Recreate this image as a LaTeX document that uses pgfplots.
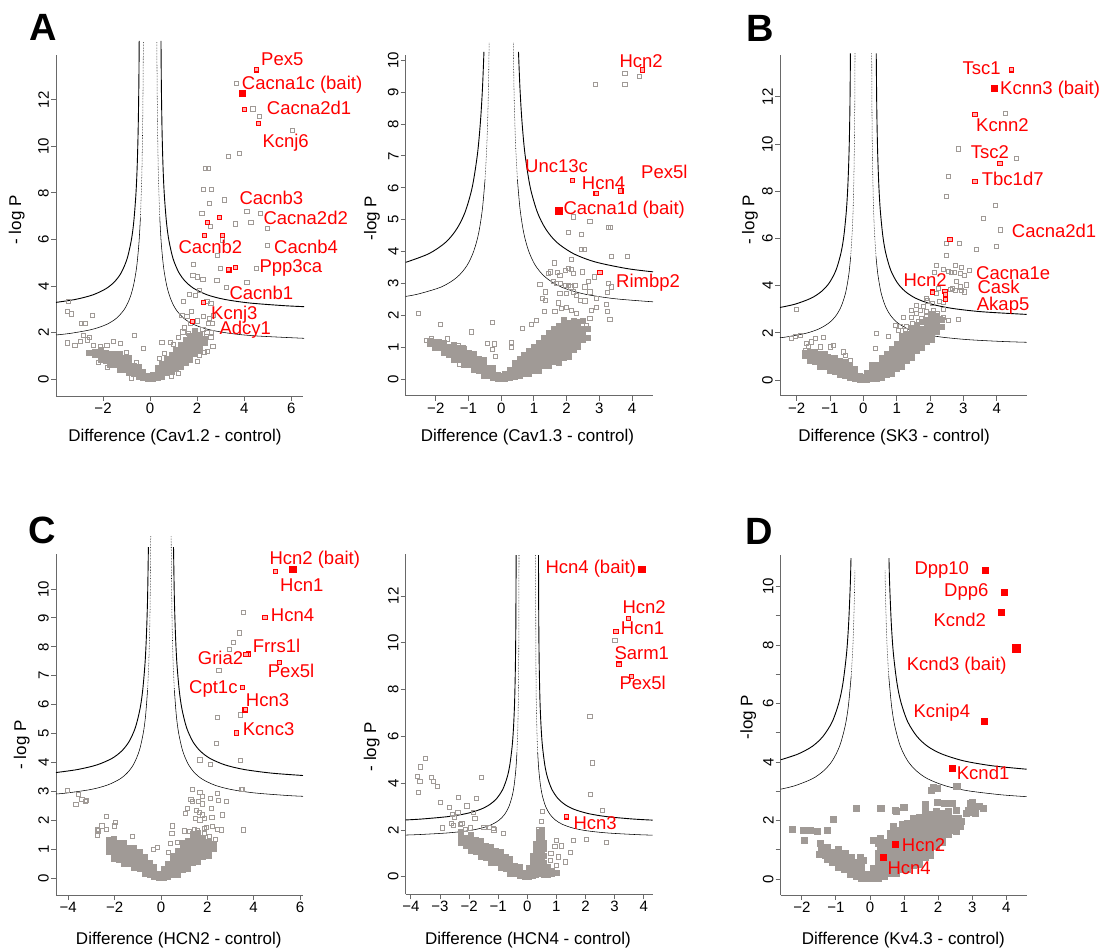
\documentclass[border=0pt]{standalone}
\usepackage{pgfplots}
\pgfplotsset{compat=1.18}
\usepackage{fontspec}
\setmainfont{Liberation Sans}

\definecolor{ptgray}{RGB}{160,154,150}
\definecolor{axcol}{RGB}{105,105,105}
\newcommand\tickfont{\fontsize{15}{18}\selectfont}
\newcommand\labf{\fontsize{17}{20}\selectfont}
\newcommand\redf{\fontsize{18.5}{22}\selectfont}

\pgfplotsset{
  volc/.style={
    scale only axis, anchor=south west, clip=false,
    axis lines=left, axis line style={-, draw=axcol, line width=0.9pt},
    tick align=outside, major tick length=5pt, minor tick length=5pt,
    tick style={draw=axcol, line width=0.9pt},
    every tick label/.append style={font=\tickfont, text=black},
    yticklabel style={rotate=90, anchor=south, inner sep=2pt},
    xticklabel style={anchor=north, inner sep=2pt},
  },
  gc/.style={color=ptgray, only marks, mark=square*, mark size=2.5pt, mark options={draw=ptgray, fill=ptgray, line width=0.3pt}},
  gp/.style={color=ptgray, only marks, mark=square, mark size=2.1pt, mark options={draw=ptgray, line width=0.75pt}},
  gd/.style={color=ptgray, only marks, mark=square*, mark size=3pt, mark options={draw=ptgray, fill=ptgray, line width=0.3pt}},
  rp/.style={color=red, only marks, mark=square*, mark size=2.1pt, mark options={draw=red, fill=red!30, line width=1.1pt}},
  rb/.style={color=red, only marks, mark=square*, mark size=3.3pt, mark options={draw=red, fill=red}},
  rd/.style={color=red, only marks, mark=square*, mark size=3pt, mark options={draw=red, fill=red}},
  outer/.style={black, line width=0.9pt, smooth, no marks},
  inner/.style={black, line width=0.55pt, smooth, no marks},
  innerd/.style={black, line width=0.55pt, densely dotted, smooth, no marks},
}
\tikzset{lab/.style={font=\labf, inner sep=0pt}, red/.style={font=\redf, text=red, anchor=base west, inner sep=0pt}}

\begin{document}
\begin{tikzpicture}
\useasboundingbox (0pt,0pt) rectangle (1104pt,-950pt);

% ---------------- A left: Cav1.2
\begin{axis}[volc, at={(56pt,-396pt)}, width=247pt, height=341pt,
  xmin=-4, xmax=6.5, ymin=-0.73, ymax=13.93,
  xtick={-2,0,2,4,6}, xticklabels={−2,0,2,4,6},
  ytick={0,2,...,12}, yticklabels={0,2,4,6,8,10,12}]
\addplot[gc] coordinates {(0,0.02)(0,0.12)
(-0.1,0.02)(-0.1,0.13)(-0.3,0.05)(-0.3,0.3)(-0.5,0.1)(-0.5,0.32)(-0.5,0.55)(-0.7,0.22)(-0.7,0.4)(-0.7,0.58)(-0.9,0.26)(-0.9,0.5)(-0.9,0.7)(-0.9,0.93)(-1.1,0.4)(-1.1,0.56)(-1.1,0.76)(-1.1,0.92)(-1.3,0.42)(-1.3,0.65)(-1.3,0.85)(-1.3,1.1)(-1.5,0.6)(-1.5,0.75)(-1.5,0.95)(-1.5,1.08)(-1.7,0.62)(-1.7,0.85)(-1.7,1.09)(-1.9,0.8)(-1.9,0.95)(-1.9,1.13)(-2.1,0.82)(-2.1,1.05)(-2.1,1.28)(-2.35,1.03)(-2.35,1.18)(-2.6,1.12)
(0.1,0.02)(0.1,0.2)(0.3,0.06)(0.3,0.24)(0.3,0.47)(0.5,0.12)(0.5,0.34)(0.5,0.54)(0.5,0.68)(0.7,0.27)(0.7,0.44)(0.7,0.64)(0.7,0.88)(0.9,0.3)(0.9,0.52)(0.9,0.72)(0.9,0.92)(0.9,1.06)(1.1,0.46)(1.1,0.62)(1.1,0.82)(1.1,1.02)(1.1,1.27)(1.3,0.52)(1.3,0.75)(1.3,0.95)(1.3,1.15)(1.3,1.35)(1.3,1.46)(1.5,0.72)(1.5,0.88)(1.5,1.08)(1.5,1.28)(1.5,1.48)(1.5,1.7)(1.7,0.82)(1.7,1.05)(1.7,1.25)(1.7,1.45)(1.7,1.65)(1.7,1.81)(1.9,1.1)(1.9,1.25)(1.9,1.45)(1.9,1.65)(1.9,1.85)(1.9,2.09)(2.1,1.26)(2.1,1.5)(2.1,1.7)(2.1,1.92)(2.3,1.55)(2.3,1.72)};
\addplot[gp] coordinates {(3.66,12.72)(4.37,11.61)(4.64,11.3)(6.04,10.68)(3.33,9.58)(3.8,9.69)(2.34,9.06)(2.48,9.06)(2.27,8.17)(2.6,8.17)(2.52,7.56)(3.15,7.7)(2.2,7.13)(4.11,7.2)(4.68,7.13)(2.55,6.57)(3.63,6.67)(4.28,6.72)(4.99,6.49)(3.08,5.98)(5.0,5.73)(2.87,5.33)(1.84,4.93)(3.0,4.76)(4.51,4.76)(1.82,4.47)(2.01,4.39)(2.24,4.29)(2.84,4.23)(4.11,4.14)(2.1,3.8)(3.23,3.94)(1.67,3.64)(1.91,3.61)(2.41,3.33)(2.58,3.25)(1.42,3.33)(1.35,2.75)(1.77,2.9)(1.56,2.68)(2.27,2.68)(2.52,2.61)(2.7,2.75)(2.48,2.39)(2.65,2.39)(2.24,2.14)(2.41,2.01)(-3.48,3.33)(-3.52,2.9)(-3.33,2.8)(-2.45,2.72)(-2.91,2.39)(-2.77,2.39)(-2.84,1.89)(-2.58,1.79)(-0.68,1.89)(-2.98,1.61)(-2.67,1.68)(-2.13,1.39)(-1.84,1.46)(-1.56,1.61)(-1.28,1.53)(-0.28,1.32)(0.5,1.58)(0.85,1.58)(1.28,1.39)(1.63,1.96)(1.99,1.89)(2.58,1.79)(2.44,1.18)(2.67,1.39)(2.1,1.03)(-2.4,1.45)(-2.2,0.7)(-1.0,1.15)(-0.6,0.7)(0.4,0.9)(0.6,1.1)(1.0,1.5)(1.2,1.8)(2.3,1.15)(2.0,0.75)(1.2,0.25)(-1.8,0.5)(-0.8,0.05)(0.9,0.12)(-3.2,1.45)(-3.5,1.55)(2.6,2.0)(1.45,2.2)(1.7,2.4)(2.0,2.5)(1.39,2.03)(1.67,1.89)(1.96,1.68)(2.38,1.82)};
\addplot[rp] coordinates {(4.51,13.29)(4.01,11.58)(4.6,10.98)(2.95,6.94)(2.43,6.74)(3.09,6.16)(2.3,6.16)(3.63,4.80)(3.35,4.69)(2.26,3.28)(1.79,2.47)};
\addplot[rb] coordinates {(3.91,12.29)};
\addplot[outer] coordinates {(0.463,14.54)(0.479,12.59)(0.509,10.64)(0.551,9.08)(0.605,7.91)(0.696,6.74)(0.799,5.96)(0.975,5.18)(1.214,4.595)(1.490,4.205)(1.860,3.893)(2.427,3.62)(3.159,3.425)(4.223,3.269)(5.721,3.152)(6.55,3.111)};
\addplot[outer] coordinates {(-0.463,14.54)(-0.479,12.59)(-0.509,10.64)(-0.551,9.08)(-0.605,7.91)(-0.696,6.74)(-0.799,5.96)(-0.975,5.18)(-1.214,4.595)(-1.490,4.205)(-1.860,3.893)(-2.427,3.62)(-3.159,3.425)(-4.0,3.294)};
\addplot[innerd] coordinates {(0.286,14.48)(0.301,12.37)(0.326,10.20)(0.357,8.58)(0.411,6.95)};
\addplot[inner] coordinates {(0.411,6.95)(0.472,5.87)(0.576,4.78)(0.717,3.97)(0.880,3.43)(1.099,2.99)(1.434,2.61)(1.866,2.34)(2.495,2.126)(3.381,1.964)(4.467,1.855)(6.55,1.75)};
\addplot[innerd] coordinates {(-0.286,14.48)(-0.301,12.37)(-0.326,10.20)(-0.357,8.58)(-0.411,6.95)};
\addplot[inner] coordinates {(-0.411,6.95)(-0.472,5.87)(-0.576,4.78)(-0.717,3.97)(-0.880,3.43)(-1.099,2.99)(-1.434,2.61)(-1.866,2.34)(-2.495,2.126)(-3.381,1.964)(-4.0,1.894)};
\end{axis}

% ---------------- A right: Cav1.3
\begin{axis}[volc, at={(405.7pt,-395.7pt)}, width=247.3pt, height=340.7pt,
  xmin=-2.92, xmax=4.64, ymin=-0.51, ymax=10.16,
  xtick={-2,...,4}, xticklabels={−2,−1,0,1,2,3,4},
  ytick={0,...,10}, yticklabels={0,1,2,3,4,5,6,7,8,9,10}]
\addplot[gc] coordinates {(0,0.02)(0,0.12)
(-0.1,0.02)(-0.1,0.15)(-0.25,0.05)(-0.25,0.2)(-0.25,0.36)(-0.4,0.12)(-0.4,0.25)(-0.4,0.38)(-0.55,0.13)(-0.55,0.3)(-0.55,0.45)(-0.55,0.62)(-0.7,0.28)(-0.7,0.4)(-0.7,0.55)(-0.7,0.66)(-0.85,0.3)(-0.85,0.48)(-0.85,0.63)(-0.85,0.82)(-1.0,0.45)(-1.0,0.55)(-1.0,0.7)(-1.0,0.83)(-1.15,0.45)(-1.15,0.63)(-1.15,0.78)(-1.15,0.97)(-1.3,0.62)(-1.3,0.73)(-1.3,0.88)(-1.3,0.98)(-1.45,0.62)(-1.45,0.8)(-1.45,0.95)(-1.45,1.1)(-1.6,0.79)(-1.6,0.9)(-1.6,1.03)(-1.75,0.83)(-1.75,1.0)(-1.75,1.15)(-1.9,0.98)(-1.9,1.1)(-1.9,1.18)(-2.05,1.0)(-2.05,1.19)(-2.2,1.13)(-2.2,1.2)
(0.1,0.02)(0.1,0.19)(0.25,0.05)(0.25,0.2)(0.25,0.32)(0.4,0.08)(0.4,0.23)(0.4,0.38)(0.4,0.54)(0.55,0.12)(0.55,0.27)(0.55,0.42)(0.55,0.57)(0.55,0.65)(0.7,0.17)(0.7,0.3)(0.7,0.45)(0.7,0.6)(0.7,0.79)(0.85,0.18)(0.85,0.35)(0.85,0.5)(0.85,0.65)(0.85,0.8)(0.85,0.89)(1.0,0.28)(1.0,0.4)(1.0,0.55)(1.0,0.7)(1.0,0.85)(1.0,1.04)(1.15,0.27)(1.15,0.45)(1.15,0.6)(1.15,0.75)(1.15,0.9)(1.15,1.05)(1.15,1.14)(1.3,0.42)(1.3,0.53)(1.3,0.68)(1.3,0.83)(1.3,0.98)(1.3,1.13)(1.3,1.32)(1.45,0.42)(1.45,0.6)(1.45,0.75)(1.45,0.9)(1.45,1.05)(1.45,1.2)(1.45,1.35)(1.45,1.45)(1.6,0.55)(1.6,0.65)(1.6,0.8)(1.6,0.95)(1.6,1.1)(1.6,1.25)(1.6,1.4)(1.6,1.59)(1.75,0.52)(1.75,0.7)(1.75,0.85)(1.75,1.0)(1.75,1.15)(1.75,1.3)(1.75,1.45)(1.75,1.6)(1.75,1.69)(1.9,0.69)(1.9,0.8)(1.9,0.95)(1.9,1.1)(1.9,1.25)(1.9,1.4)(1.9,1.55)(1.9,1.7)(1.9,1.86)(2.05,0.72)(2.05,0.9)(2.05,1.05)(2.05,1.2)(2.05,1.35)(2.05,1.5)(2.05,1.65)(2.05,1.77)(2.2,0.94)(2.2,1.05)(2.2,1.2)(2.2,1.35)(2.2,1.5)(2.2,1.65)(2.2,1.84)(2.35,1.02)(2.35,1.2)(2.35,1.35)(2.35,1.5)(2.35,1.65)(2.35,1.82)(2.5,1.24)(2.5,1.4)(2.5,1.6)(2.5,1.84)(2.65,1.32)(2.65,1.58)};
\addplot[gp] coordinates {(3.78,9.58)(4.22,9.5)(2.88,9.24)(3.78,9.24)(2.2,5.09)(2.71,4.96)(3.28,4.77)(3.33,4.77)(2.05,4.6)(2.46,4.54)(2.46,4.07)(2.53,4.07)(3.37,3.86)(3.86,3.86)(2.15,3.76)(1.62,3.65)(1.44,3.32)(1.51,3.37)(1.72,3.34)(1.79,3.27)(1.95,3.42)(2.05,3.47)(2.15,3.44)(2.2,3.32)(2.48,3.37)(2.66,3.06)(2.84,3.21)(3.27,3.0)(3.37,2.9)(3.25,2.72)(1.59,3.06)(1.69,3.0)(1.82,3.02)(1.97,2.95)(2.05,2.95)(2.13,2.9)(2.25,2.95)(2.56,2.9)(2.71,2.74)(1.79,2.69)(1.99,2.69)(2.2,2.74)(2.3,2.64)(2.41,2.48)(2.56,2.46)(2.92,2.55)(1.18,2.98)(1.34,2.74)(1.25,2.53)(1.34,2.48)(1.31,2.14)(1.64,2.12)(1.74,2.4)(1.85,2.22)(2.0,2.25)(2.15,2.17)(2.3,2.06)(2.76,2.17)(2.92,2.25)(3.22,2.35)(3.25,2.14)(3.32,1.88)(2.71,1.91)(2.61,1.7)(2.2,1.7)(2.25,1.33)(2.15,1.07)(-2.54,2.06)(-1.85,1.73)(-0.91,1.49)(-0.27,1.78)(0.64,1.6)(0.93,1.72)(1.08,1.86)(-0.42,1.13)(-0.22,1.11)(0.32,1.15)(0.3,1.0)(-0.28,0.94)(-0.17,0.73)(-1.31,1.07)(-1.16,1.0)(-2.28,1.23)(-2.13,1.27)(-1.64,1.27)(-1.93,1.18)(-1.57,1.02)(-1.72,0.83)(-1.31,0.71)(-1.29,0.48)(-1.01,0.83)};
\addplot[rp] coordinates {(4.31,9.69)(2.18,6.22)(2.9,5.82)(3.66,5.9)(3.02,3.35)};
\addplot[rb] coordinates {(1.76,5.28)};
\addplot[outer] coordinates {(0.528,10.26)(0.572,9.14)(0.633,8.1)(0.726,7.06)(0.886,6.02)(1.104,5.24)(1.355,4.72)(1.691,4.30)(2.207,3.94)(2.872,3.68)(3.839,3.472)(4.64,3.369)};
\addplot[outer] coordinates {(-0.528,10.26)(-0.572,9.14)(-0.633,8.1)(-0.726,7.06)(-0.886,6.02)(-1.104,5.24)(-1.355,4.72)(-1.691,4.30)(-2.207,3.94)(-2.92,3.666)};
\addplot[innerd] coordinates {(0.369,10.54)(0.395,8.87)(0.438,7.38)(0.495,6.26)};
\addplot[inner] coordinates {(0.495,6.26)(0.576,5.33)(0.690,4.58)(0.839,4.02)(1.044,3.57)(1.351,3.20)(1.821,2.90)(2.527,2.677)(3.468,2.528)(4.64,2.43)};
\addplot[innerd] coordinates {(-0.369,10.54)(-0.395,8.87)(-0.438,7.38)(-0.495,6.26)};
\addplot[inner] coordinates {(-0.495,6.26)(-0.576,5.33)(-0.690,4.58)(-0.839,4.02)(-1.044,3.57)(-1.351,3.20)(-1.821,2.90)(-2.527,2.677)(-2.92,2.60)};
\end{axis}

% ---------------- B: SK3
\begin{axis}[volc, at={(780pt,-395.7pt)}, width=246.7pt, height=340.7pt,
  xmin=-2.5, xmax=4.9, ymin=-0.66, ymax=13.77,
  xtick={-2,...,4}, xticklabels={−2,−1,0,1,2,3,4},
  ytick={0,2,...,12}, yticklabels={0,2,4,6,8,10,12}]
\addplot[gc] coordinates {(0,0.02)(0,0.15)
(-0.1,0.02)(-0.1,0.17)(-0.25,0.05)(-0.25,0.25)(-0.25,0.49)(-0.4,0.1)(-0.4,0.3)(-0.4,0.5)(-0.4,0.64)(-0.55,0.18)(-0.55,0.35)(-0.55,0.55)(-0.55,0.79)(-0.7,0.22)(-0.7,0.45)(-0.7,0.65)(-0.7,0.82)(-0.85,0.37)(-0.85,0.53)(-0.85,0.73)(-0.85,0.97)(-1.0,0.39)(-1.0,0.62)(-1.0,0.82)(-1.0,0.97)(-1.15,0.55)(-1.15,0.7)(-1.15,0.9)(-1.15,1.12)(-1.3,0.57)(-1.3,0.8)(-1.3,1.0)(-1.3,1.12)(-1.45,0.79)(-1.45,0.95)(-1.45,1.19)(-1.6,0.82)(-1.6,1.05)(-1.6,1.22)(-1.75,1.04)(-1.75,1.17)
(0.1,0.02)(0.1,0.2)(0.1,0.31)(0.25,0.05)(0.25,0.25)(0.25,0.45)(0.25,0.64)(0.4,0.08)(0.4,0.28)(0.4,0.48)(0.4,0.64)(0.55,0.12)(0.55,0.32)(0.55,0.52)(0.55,0.72)(0.55,0.94)(0.7,0.23)(0.7,0.4)(0.7,0.6)(0.7,0.8)(0.7,1.0)(0.7,1.11)(0.85,0.27)(0.85,0.5)(0.85,0.7)(0.85,0.9)(0.85,1.1)(0.85,1.34)(1.0,0.49)(1.0,0.65)(1.0,0.85)(1.0,1.05)(1.0,1.25)(1.0,1.45)(1.0,1.56)(1.15,0.57)(1.15,0.8)(1.15,1.0)(1.15,1.2)(1.15,1.4)(1.15,1.6)(1.15,1.84)(1.3,0.84)(1.3,1.0)(1.3,1.2)(1.3,1.4)(1.3,1.6)(1.3,1.8)(1.3,1.96)(1.45,0.96)(1.45,1.2)(1.45,1.4)(1.45,1.6)(1.45,1.8)(1.45,2.0)(1.45,2.24)(1.6,1.24)(1.6,1.4)(1.6,1.6)(1.6,1.8)(1.6,2.0)(1.6,2.2)(1.6,2.36)(1.75,1.36)(1.75,1.6)(1.75,1.8)(1.75,2.0)(1.75,2.2)(1.75,2.49)(1.9,1.64)(1.9,1.8)(1.9,2.0)(1.9,2.2)(1.9,2.4)(1.9,2.56)(2.05,1.72)(2.05,1.95)(2.05,2.15)(2.05,2.35)(2.05,2.6)(2.05,2.83)(2.2,2.04)(2.2,2.25)(2.2,2.5)(2.2,2.71)(2.35,2.27)(2.35,2.58)};
\addplot[gp] coordinates {(4.25,11.3)(2.85,9.79)(4.6,9.38)(2.56,8.64)(2.5,7.77)(3.95,7.39)(3.6,6.85)(4.12,6.36)(2.5,5.79)(2.88,5.79)(3.38,5.54)(4.0,5.68)(2.5,5.27)(2.18,4.87)(2.75,4.87)(2.95,4.77)(2.55,4.59)(2.65,4.55)(2.72,4.55)(2.13,4.55)(2.4,4.69)(2.9,4.52)(3.03,4.45)(3.18,4.66)(2.8,4.17)(2.9,3.95)(2.68,3.88)(2.6,3.84)(2.75,3.81)(2.95,3.81)(3.02,3.74)(3.1,4.03)(2.25,3.88)(2.18,3.67)(1.93,3.36)(1.9,3.46)(2.08,3.25)(2.28,3.32)(2.4,3.28)(1.6,3.18)(1.8,3.11)(1.45,2.97)(1.58,2.82)(1.7,2.97)(1.9,2.9)(2.1,2.97)(2.22,2.82)(2.4,2.99)(2.3,2.61)(2.05,2.54)(1.9,2.68)(1.75,2.61)(1.65,2.47)(1.48,2.4)(1.3,2.26)(1.2,2.66)(1.45,2.66)(2.4,2.65)(2.55,2.54)(2.85,2.57)(1.95,2.26)(1.85,2.12)(1.7,2.12)(1.55,1.98)(1.8,1.91)(1.9,1.77)(2.05,1.69)(1.75,1.62)(1.6,1.53)(1.4,1.48)(0.95,2.33)(1.1,2.26)(1.05,2.12)(1.25,2.09)(1.15,1.91)(0.4,1.98)(0.75,1.86)(-2.0,3.01)(-2.05,1.84)(-1.9,1.91)(-2.15,1.77)(-1.7,1.55)(-1.55,1.62)(-1.3,1.41)(-1.45,1.77)(-1.2,1.81)(-1.0,1.41)(-0.9,1.48)(-0.6,1.2)(-0.54,1.06)(-1.3,1.06)(-1.65,1.44)(-1.75,1.27)(-1.5,1.2)(-1.05,1.02)(-0.4,0.85)(0.35,1.34)(0.78,1.02)};
\addplot[rp] coordinates {(4.45,13.14)(3.35,11.26)(4.1,9.17)(3.35,8.4)(2.6,5.97)(2.08,3.73)(2.45,3.74)(2.47,3.63)(2.47,3.43)};
\addplot[rb] coordinates {(3.92,12.36)};
\addplot[outer] coordinates {(0.387,13.84)(0.403,11.5)(0.428,9.7)(0.464,8.26)(0.509,7.18)(0.585,6.1)(0.672,5.38)(0.820,4.66)(1.021,4.12)(1.253,3.76)(1.564,3.472)(2.041,3.22)(2.656,3.04)(3.551,2.896)(4.9,2.783)};
\addplot[outer] coordinates {(-0.387,13.84)(-0.403,11.5)(-0.428,9.7)(-0.464,8.26)(-0.509,7.18)(-0.585,6.1)(-0.672,5.38)(-0.820,4.66)(-1.021,4.12)(-1.253,3.76)(-1.564,3.472)(-2.041,3.22)(-2.5,3.077)};
\addplot[innerd] coordinates {(0.25,13.84)(0.261,10.96)(0.278,9.05)(0.301,7.52)(0.330,6.38)(0.380,5.23)};
\addplot[inner] coordinates {(0.380,5.23)(0.436,4.47)(0.532,3.70)(0.662,3.13)(0.813,2.747)(1.014,2.441)(1.324,2.174)(1.723,1.983)(2.303,1.83)(3.121,1.716)(4.123,1.639)(4.9,1.602)};
\addplot[innerd] coordinates {(-0.25,13.84)(-0.261,10.96)(-0.278,9.05)(-0.301,7.52)(-0.330,6.38)(-0.380,5.23)};
\addplot[inner] coordinates {(-0.380,5.23)(-0.436,4.47)(-0.532,3.70)(-0.662,3.13)(-0.813,2.747)(-1.014,2.441)(-1.324,2.174)(-1.723,1.983)(-2.303,1.83)(-2.5,1.795)};
\end{axis}

% ---------------- C left: HCN2
\begin{axis}[volc, at={(56pt,-895pt)}, width=247pt, height=340.7pt,
  xmin=-4.53, xmax=6.13, ymin=-0.58, ymax=11.2,
  xtick={-4,-2,...,6}, xticklabels={−4,−2,0,2,4,6},
  ytick={0,...,10}, yticklabels={0,1,2,3,4,5,6,7,8,9,10}]
\addplot[gc] coordinates {(0,0.02)(0,0.15)
(-0.1,0.02)(-0.1,0.15)(-0.3,0.05)(-0.3,0.22)(-0.3,0.41)(-0.5,0.12)(-0.5,0.27)(-0.5,0.44)(-0.5,0.55)(-0.72,0.17)(-0.72,0.37)(-0.72,0.54)(-0.72,0.74)(-0.94,0.34)(-0.94,0.47)(-0.94,0.64)(-0.94,0.81)(-0.94,0.92)(-1.16,0.35)(-1.16,0.55)(-1.16,0.72)(-1.16,0.89)(-1.16,1.06)(-1.38,0.49)(-1.38,0.62)(-1.38,0.79)(-1.38,0.96)(-1.38,1.07)(-1.6,0.49)(-1.6,0.69)(-1.6,0.86)(-1.6,1.03)(-1.6,1.22)(-1.82,0.64)(-1.82,0.77)(-1.82,0.94)(-1.82,1.11)(-1.82,1.22)(-2.04,0.67)(-2.04,0.87)(-2.04,1.04)(-2.04,1.21)(-2.04,1.37)(-2.26,0.93)(-2.26,1.07)(-2.26,1.24)(-2.26,1.35)
(0.1,0.02)(0.1,0.17)(0.1,0.33)(0.3,0.05)(0.3,0.22)(0.3,0.39)(0.3,0.49)(0.5,0.13)(0.5,0.27)(0.5,0.44)(0.5,0.61)(0.5,0.79)(0.72,0.14)(0.72,0.34)(0.72,0.51)(0.72,0.68)(0.72,0.85)(0.72,0.95)(0.94,0.29)(0.94,0.42)(0.94,0.59)(0.94,0.76)(0.94,0.93)(0.94,1.1)(0.94,1.24)(1.16,0.32)(1.16,0.52)(1.16,0.69)(1.16,0.86)(1.16,1.03)(1.16,1.2)(1.16,1.31)(1.38,0.54)(1.38,0.67)(1.38,0.84)(1.38,1.01)(1.38,1.18)(1.38,1.35)(1.38,1.54)(1.6,0.57)(1.6,0.77)(1.6,0.94)(1.6,1.11)(1.6,1.28)(1.6,1.45)(1.6,1.58)(1.82,0.74)(1.82,0.87)(1.82,1.04)(1.82,1.21)(1.82,1.42)(2.04,0.77)(2.04,0.97)(2.04,1.14)(2.04,1.27)(2.26,1.04)(2.26,1.17)};
\addplot[gp] coordinates {(3.55,9.19)(3.38,8.48)(3.12,8.15)(2.95,7.9)(2.5,7.19)(3.44,5.65)(2.45,5.56)(2.4,4.67)(1.68,4.09)(2.12,3.94)(3.41,4.07)(3.51,3.06)(-4.03,3.03)(-3.55,2.9)(-3.41,2.73)(-3.27,2.65)(-3.22,2.7)(-3.67,2.54)(-2.37,2.15)(-2.55,1.81)(-2.73,1.7)(-2.69,1.64)(-2.37,1.69)(-1.97,1.92)(-2.01,1.81)(-2.73,1.5)(-1.25,1.46)(-0.33,1.0)(-0.14,1.07)(0.5,1.81)(0.47,1.55)(0.39,1.21)(0.72,1.23)(0.33,0.89)(0.76,0.96)(1.34,3.08)(1.29,2.73)(1.37,2.65)(1.68,2.96)(1.77,2.82)(1.63,2.65)(1.8,2.57)(1.54,2.36)(1.66,2.27)(1.77,2.19)(1.87,2.07)(1.48,2.07)(1.05,2.23)(1.15,2.42)(2.12,2.75)(2.45,2.94)(2.47,2.69)(2.83,2.65)(2.16,2.42)(2.66,2.19)(2.2,2.11)(1.68,2.02)(1.87,1.73)(1.97,1.76)(2.23,1.79)(2.45,1.69)(2.62,1.67)(1.87,1.55)(2.09,1.46)(2.35,1.35)(2.2,1.19)(2.01,1.04)(1.8,1.33)(1.58,1.65)(1.44,1.67)(1.23,1.61)(1.01,1.64)(1.37,1.42)(3.55,1.67)(3.48,3.06)};
\addplot[rp] coordinates {(4.95,10.61)(4.49,9.02)(3.77,7.75)(3.67,7.73)(5.11,7.47)(3.51,6.6)(3.63,5.82)(3.27,5.02)};
\addplot[rb] coordinates {(5.68,10.69)};
\addplot[outer] coordinates {(0.542,11.45)(0.578,9.68)(0.627,8.40)(0.687,7.44)(0.791,6.48)(0.908,5.84)(1.108,5.20)(1.380,4.72)(1.693,4.40)(2.113,4.144)(2.758,3.92)(3.589,3.76)(4.798,3.632)(6.13,3.552)};
\addplot[outer] coordinates {(-0.542,11.45)(-0.578,9.68)(-0.627,8.40)(-0.687,7.44)(-0.791,6.48)(-0.908,5.84)(-1.108,5.20)(-1.380,4.72)(-1.693,4.40)(-2.113,4.144)(-2.758,3.92)(-3.589,3.76)(-4.53,3.654)};
\addplot[innerd] coordinates {(0.441,11.82)(0.458,10.12)(0.486,8.62)(0.526,7.42)(0.577,6.52)};
\addplot[inner] coordinates {(0.577,6.52)(0.664,5.62)(0.763,5.02)(0.931,4.42)(1.159,3.97)(1.422,3.67)(1.775,3.43)(2.317,3.22)(3.015,3.07)(4.031,2.95)(5.461,2.86)(6.13,2.833)};
\addplot[innerd] coordinates {(-0.441,11.82)(-0.458,10.12)(-0.486,8.62)(-0.526,7.42)(-0.577,6.52)};
\addplot[inner] coordinates {(-0.577,6.52)(-0.664,5.62)(-0.763,5.02)(-0.931,4.42)(-1.159,3.97)(-1.422,3.67)(-1.775,3.43)(-2.317,3.22)(-3.015,3.07)(-4.031,2.95)(-4.53,2.912)};
\end{axis}

% ---------------- C right: HCN4
\begin{axis}[volc, at={(405.7pt,-894.3pt)}, width=247pt, height=340pt,
  xmin=-4.18, xmax=4.31, ymin=-0.75, ymax=13.78,
  xtick={-4,...,4}, xticklabels={−4,−3,−2,−1,0,1,2,3,4},
  ytick={0,2,...,12}, yticklabels={0,2,4,6,8,10,12}]
\addplot[gc] coordinates {(0,0.02)(0,0.15)
(-0.08,0.02)(-0.08,0.18)(-0.25,0.05)(-0.25,0.25)(-0.25,0.44)(-0.42,0.13)(-0.42,0.3)(-0.42,0.47)(-0.59,0.15)(-0.59,0.38)(-0.59,0.58)(-0.59,0.76)(-0.76,0.34)(-0.76,0.5)(-0.76,0.7)(-0.76,0.85)(-0.93,0.39)(-0.93,0.62)(-0.93,0.82)(-0.93,1.06)(-1.1,0.59)(-1.1,0.75)(-1.1,0.95)(-1.1,1.12)(-1.27,0.62)(-1.27,0.85)(-1.27,1.05)(-1.27,1.29)(-1.44,0.82)(-1.44,0.98)(-1.44,1.18)(-1.44,1.35)(-1.61,0.87)(-1.61,1.1)(-1.61,1.3)(-1.61,1.54)(-1.78,1.06)(-1.78,1.22)(-1.78,1.42)(-1.78,1.59)(-1.95,1.12)(-1.95,1.35)(-1.95,1.55)(-1.95,1.79)(-2.12,1.34)(-2.12,1.5)(-2.12,1.67)(-2.3,1.47)(-2.3,1.7)(-2.3,1.94)
(0.06,0.02)(0.06,0.22)(0.06,0.38)(0.17,0.05)(0.17,0.25)(0.17,0.45)(0.17,0.65)(0.17,0.89)(0.28,0.08)(0.28,0.28)(0.28,0.48)(0.28,0.68)(0.28,0.88)(0.28,1.08)(0.28,1.28)(0.28,1.41)(0.39,0.12)(0.39,0.32)(0.39,0.52)(0.39,0.72)(0.39,0.92)(0.39,1.12)(0.39,1.32)(0.39,1.52)(0.39,1.72)(0.39,1.94)(0.48,0.42)(0.48,0.65)(0.48,0.85)(0.48,1.05)(0.48,1.25)(0.48,1.45)(0.48,1.65)(0.48,1.85)(0.48,2.02)(0.56,0.1)(0.56,0.3)(0.56,0.6)(0.56,0.9)(0.56,1.2)(0.56,1.46)(0.7,0.08)(0.7,0.25)(0.7,0.42)(0.85,0.12)(0.85,0.27)(1.0,0.18)};
\addplot[gp] coordinates {(3.01,10.09)(2.15,6.84)(2.25,4.87)(2.18,3.52)(2.58,2.85)(2.73,1.47)(2.04,1.6)(1.58,1.57)(1.16,1.32)(1.47,1.03)(1.32,0.64)(1.01,1.57)(0.95,1.31)(0.81,1.0)(0.78,0.71)(1.07,0.85)(1.01,0.5)(0.66,0.36)(0.53,2.78)(0.49,2.35)(0.38,2.04)(-3.51,5.06)(-3.67,4.7)(-3.78,4.3)(-3.69,4.06)(-3.31,4.24)(-3.23,4.06)(-3.09,3.85)(-3.75,3.6)(-3.0,3.18)(-1.59,4.23)(-2.37,3.38)(-1.76,3.35)(-2.68,2.95)(-2.08,3.03)(-2.39,2.74)(-2.57,2.68)(-2.51,2.54)(-2.31,2.24)(-2.91,2.09)(-2.6,2.28)(-2.54,2.18)(-2.25,2.28)(-1.86,2.74)(-1.8,2.48)(-1.97,2.09)(-2.14,2.02)(-1.49,2.11)(-1.17,2.07)(-1.15,2.0)(-0.82,1.85)(-1.31,2.11)};
\addplot[rp] coordinates {(3.47,11.04)(3.05,10.47)(3.15,9.09)(3.59,8.55)(1.35,2.56)};
\addplot[rb] coordinates {(3.94,13.15)};
\addplot[outer] coordinates {(0.384,13.75)(0.392,11.28)(0.400,9.98)(0.414,8.68)(0.439,7.38)(0.476,6.34)(0.522,5.56)(0.601,4.78)(0.690,4.26)(0.842,3.74)(1.049,3.35)(1.287,3.09)(1.606,2.882)(2.096,2.70)(2.728,2.57)(3.647,2.466)(4.31,2.42)};
\addplot[outer] coordinates {(-0.384,13.75)(-0.392,11.28)(-0.400,9.98)(-0.414,8.68)(-0.439,7.38)(-0.476,6.34)(-0.522,5.56)(-0.601,4.78)(-0.690,4.26)(-0.842,3.74)(-1.049,3.35)(-1.287,3.09)(-1.606,2.882)(-2.096,2.70)(-2.728,2.57)(-3.647,2.466)(-4.18,2.428)};
\addplot[innerd] coordinates {(0.286,13.74)(0.290,10.82)(0.300,8.52)(0.310,7.37)(0.330,6.22)(0.357,5.30)};
\addplot[inner] coordinates {(0.357,5.30)(0.392,4.61)(0.451,3.92)(0.518,3.46)(0.632,3.0)(0.786,2.655)(0.965,2.425)(1.205,2.241)(1.572,2.08)(2.046,1.965)(2.735,1.873)(3.706,1.804)(4.31,1.777)};
\addplot[innerd] coordinates {(-0.286,13.74)(-0.290,10.82)(-0.300,8.52)(-0.310,7.37)(-0.330,6.22)(-0.357,5.30)};
\addplot[inner] coordinates {(-0.357,5.30)(-0.392,4.61)(-0.451,3.92)(-0.518,3.46)(-0.632,3.0)(-0.786,2.655)(-0.965,2.425)(-1.205,2.241)(-1.572,2.08)(-2.046,1.965)(-2.735,1.873)(-3.706,1.804)(-4.18,1.782)};
\end{axis}

% ---------------- D: Kv4.3
\begin{axis}[volc, at={(780.7pt,-895pt)}, width=246pt, height=340pt,
  xmin=-2.62, xmax=4.6, ymin=-0.54, ymax=11.08,
  xtick={-2,...,4}, xticklabels={−2,−1,0,1,2,3,4},
  ytick={0,2,...,10}, yticklabels={0,2,4,6,8,10},
  minor ytick={1,3,...,9}]
\addplot[gd] coordinates {(0,0.02)(0,0.15)
(-0.08,0.02)(-0.08,0.18)(-0.25,0.05)(-0.25,0.25)(-0.25,0.45)(-0.42,0.12)(-0.42,0.3)(-0.42,0.5)(-0.42,0.6)(-0.59,0.16)(-0.59,0.38)(-0.59,0.58)(-0.59,0.76)(-0.76,0.33)(-0.76,0.5)(-0.76,0.7)(-0.76,0.82)(-0.93,0.42)(-0.93,0.65)(-0.93,0.85)(-0.93,1.02)(-1.1,0.58)(-1.1,0.75)(-1.1,0.92)(-1.27,0.67)(-1.27,0.9)(-1.27,1.08)(-1.44,0.88)(-1.44,0.98)
(0.08,0.02)(0.08,0.2)(0.08,0.37)(0.25,0.05)(0.25,0.25)(0.25,0.45)(0.25,0.65)(0.25,0.89)(0.42,0.1)(0.42,0.3)(0.42,0.5)(0.42,0.7)(0.42,0.9)(0.42,1.1)(0.42,1.26)(0.59,0.2)(0.59,0.38)(0.59,0.58)(0.59,0.78)(0.59,0.98)(0.59,1.18)(0.59,1.38)(0.59,1.59)(0.76,0.22)(0.76,0.45)(0.76,0.65)(0.76,0.85)(0.76,1.05)(0.76,1.25)(0.76,1.45)(0.76,1.62)(0.93,0.34)(0.93,0.5)(0.93,0.7)(0.93,0.9)(0.93,1.1)(0.93,1.3)(0.93,1.5)(0.93,1.7)(0.93,1.89)(1.1,0.35)(1.1,0.58)(1.1,0.78)(1.1,0.98)(1.1,1.18)(1.1,1.38)(1.1,1.58)(1.1,1.78)(1.1,1.92)(1.27,0.49)(1.27,0.65)(1.27,0.85)(1.27,1.05)(1.27,1.25)(1.27,1.45)(1.27,1.65)(1.27,1.85)(1.27,2.09)(1.44,0.52)(1.44,0.75)(1.44,0.95)(1.44,1.15)(1.44,1.35)(1.44,1.55)(1.44,1.75)(1.44,1.95)(1.44,2.12)(1.61,0.74)(1.61,0.9)(1.61,1.1)(1.61,1.3)(1.61,1.5)(1.61,1.7)(1.61,1.9)(1.61,2.1)(1.61,2.29)(1.78,0.82)(1.78,1.05)(1.78,1.25)(1.78,1.45)(1.78,1.65)(1.78,1.85)(1.78,2.05)(1.78,2.22)(1.95,1.14)(1.95,1.3)(1.95,1.5)(1.95,1.7)(1.95,1.9)(1.95,2.1)(1.95,2.34)(2.12,1.27)(2.12,1.5)(2.12,1.7)(2.12,1.9)(2.12,2.1)(2.12,2.27)(2.29,1.54)(2.29,1.7)(2.29,1.9)(2.29,2.1)(2.29,2.34)(2.46,1.67)(2.46,1.9)(2.46,2.07)};
\addplot[gd] coordinates {(-2.27,1.7)(-1.97,1.66)(-1.76,1.66)(-1.56,1.63)(-1.27,1.66)(-1.94,1.34)(-1.09,2.05)(-0.41,2.42)(0.29,2.42)(0.76,2.33)(1.0,2.46)(1.61,2.56)(1.96,2.63)(2.2,2.61)(2.41,2.61)(1.81,3.05)(1.96,3.11)(2.54,3.19)(2.93,2.61)(2.98,2.37)(3.08,2.25)(2.83,2.25)(2.9,2.3)(3.32,2.42)(2.54,2.37)(2.59,2.08)(2.69,1.97)(2.64,1.8)(2.35,1.91)(2.39,1.74)(2.52,1.63)(2.2,1.57)(2.05,2.14)(-1.47,1.23)(-1.37,1.09)(-1.32,0.83)(-1.49,0.85)(-1.22,0.94)(-1.08,0.77)(-0.93,0.77)(-0.73,0.89)(-0.54,0.77)(-0.29,0.75)(-0.19,0.66)(0.68,1.8)(0.83,1.68)(1.08,1.68)(1.22,1.63)(1.42,1.46)(1.66,1.23)(1.71,0.83)(0.29,1.4)(0.24,1.23)(0.29,1.0)(0.1,1.34)(1.86,3.13)(2.56,3.17)(0.34,2.43)(0.73,2.35)(0.98,2.46)(1.61,2.54)(2.18,2.6)(2.39,2.6)(3.0,2.62)(3.21,2.51)(3.08,2.39)(2.88,2.37)};
\addplot[rd] coordinates {(3.38,10.57)(3.94,9.81)(3.84,9.11)(3.34,5.39)(2.42,3.78)(0.74,1.2)(0.39,0.74)};
\addplot[rd, mark size=3.8pt] coordinates {(4.3,7.89)};
\addplot[outer] coordinates {(0.557,10.97)(0.578,10.06)(0.627,8.72)(0.687,7.72)(0.791,6.715)(0.908,6.05)(1.108,5.38)(1.380,4.88)(1.693,4.54)(2.113,4.277)(2.758,4.043)(3.589,3.876)(4.6,3.759)};
\addplot[outer] coordinates {(-0.557,10.97)(-0.578,10.06)(-0.627,8.72)(-0.687,7.72)(-0.791,6.715)(-0.908,6.05)(-1.108,5.38)(-1.380,4.88)(-1.693,4.54)(-2.113,4.277)(-2.62,4.082)};
\addplot[innerd] coordinates {(0.442,10.55)(0.463,9.35)(0.501,7.98)(0.550,6.96)};
\addplot[inner] coordinates {(0.550,6.96)(0.633,5.93)(0.726,5.25)(0.887,4.56)(1.104,4.05)(1.355,3.71)(1.691,3.433)(2.207,3.194)(2.871,3.023)(3.839,2.886)(4.6,2.821)};
\addplot[innerd] coordinates {(-0.442,10.55)(-0.463,9.35)(-0.501,7.98)(-0.550,6.96)};
\addplot[inner] coordinates {(-0.550,6.96)(-0.633,5.93)(-0.726,5.25)(-0.887,4.56)(-1.104,4.05)(-1.355,3.71)(-1.691,3.433)(-2.207,3.194)(-2.62,3.077)};
\end{axis}

% panel letters
\node[font=\fontsize{38}{44}\selectfont\bfseries] at (43pt,-27.5pt) {A};
\node[font=\fontsize{38}{44}\selectfont\bfseries] at (760pt,-28pt) {B};
\node[font=\fontsize{38}{44}\selectfont\bfseries] at (42.5pt,-530pt) {C};
\node[font=\fontsize{38}{44}\selectfont\bfseries] at (759pt,-531pt) {D};

% axis titles
\node[lab] at (175pt,-436.7pt) {Difference (Cav1.2 - control)};
\node[lab] at (527.5pt,-436.7pt) {Difference (Cav1.3 - control)};
\node[lab] at (894pt,-437pt) {Difference (SK3 - control)};
\node[lab] at (178.8pt,-940pt) {Difference (HCN2 - control)};
\node[lab] at (528pt,-940pt) {Difference (HCN4 - control)};
\node[lab] at (903.3pt,-940pt) {Difference (Kv4.3 - control)};
\node[lab, rotate=90] at (16.7pt,-220pt) {- log P};
\node[lab, rotate=90] at (372pt,-218pt) {-log P};
\node[lab, rotate=90] at (750pt,-220pt) {- log P};
\node[lab, rotate=90] at (21.7pt,-745pt) {- log P};
\node[lab, rotate=90] at (371.7pt,-746.7pt) {- log P};
\node[lab, rotate=90] at (748.3pt,-717pt) {-log P};

% protein labels A
\node[red] at (261pt,-65.5pt) {Pex5};
\node[red] at (241.7pt,-89.8pt) {Cacna1c (bait)};
\node[red] at (266.7pt,-114.2pt) {Cacna2d1};
\node[red] at (262.3pt,-147.5pt) {Kcnj6};
\node[red] at (239.3pt,-204.2pt) {Cacnb3};
\node[red] at (263.3pt,-224.8pt) {Cacna2d2};
\node[red] at (274pt,-253.2pt) {Cacnb4};
\node[red] at (178.3pt,-253.2pt) {Cacnb2};
\node[red] at (259.3pt,-272.3pt) {Ppp3ca};
\node[red] at (229.3pt,-299.8pt) {Cacnb1};
\node[red] at (211pt,-319.8pt) {Kcnj3};
\node[red] at (219.3pt,-334.8pt) {Adcy1};
\node[red] at (619.3pt,-67.5pt) {Hcn2};
\node[red] at (525pt,-172.5pt) {Unc13c};
\node[red] at (581.7pt,-189.2pt) {Hcn4};
\node[red] at (641pt,-178.2pt) {Pex5l};
\node[red] at (563.3pt,-214.2pt) {Cacna1d (bait)};
\node[red] at (616pt,-287.2pt) {Rimbp2};
% B
\node[red] at (962.3pt,-74.8pt) {Tsc1};
\node[red] at (1000pt,-94.2pt) {Kcnn3 (bait)};
\node[red] at (976pt,-131.5pt) {Kcnn2};
\node[red] at (970.7pt,-158.2pt) {Tsc2};
\node[red] at (981.7pt,-185.5pt) {Tbc1d7};
\node[red] at (1011.7pt,-237.2pt) {Cacna2d1};
\node[red] at (976pt,-279.8pt) {Cacna1e};
\node[red] at (977.3pt,-293.2pt) {Cask};
\node[red] at (976.7pt,-310.5pt) {Akap5};
\node[red] at (903.3pt,-286.5pt) {Hcn2};
% C
\node[red] at (269.3pt,-564.8pt) {Hcn2 (bait)};
\node[red] at (280pt,-591.5pt) {Hcn1};
\node[red] at (270.7pt,-621.5pt) {Hcn4};
\node[red] at (252.7pt,-652.5pt) {Frrs1l};
\node[red] at (197.7pt,-664.2pt) {Gria2};
\node[red] at (267.7pt,-677.2pt) {Pex5l};
\node[red] at (189pt,-693.2pt) {Cpt1c};
\node[red] at (245.7pt,-706.5pt) {Hcn3};
\node[red] at (242.7pt,-735.8pt) {Kcnc3};
\node[red] at (545.3pt,-573.8pt) {Hcn4 (bait)};
\node[red] at (622.3pt,-613.2pt) {Hcn2};
\node[red] at (620.7pt,-634.8pt) {Hcn1};
\node[red] at (614.3pt,-659.8pt) {Sarm1};
\node[red] at (619.3pt,-689.8pt) {Pex5l};
\node[red] at (573.3pt,-829.2pt) {Hcn3};
% D
\node[red] at (914.3pt,-574.2pt) {Dpp10};
\node[red] at (944pt,-596.5pt) {Dpp6};
\node[red] at (933.3pt,-626.5pt) {Kcnd2};
\node[red] at (906.7pt,-670.8pt) {Kcnd3 (bait)};
\node[red] at (913.3pt,-717.5pt) {Kcnip4};
\node[red] at (956.7pt,-779.8pt) {Kcnd1};
\node[red] at (901.7pt,-851.5pt) {Hcn2};
\node[red] at (887.3pt,-874.2pt) {Hcn4};
\end{tikzpicture}
\end{document}
